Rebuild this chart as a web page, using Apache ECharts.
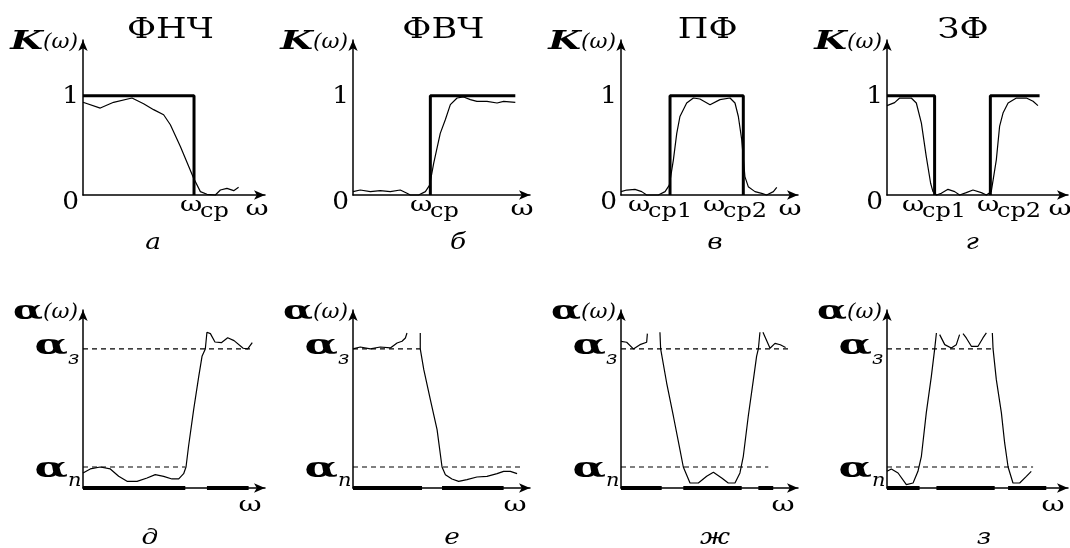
<!DOCTYPE html>
<html><head><meta charset="utf-8">
<script src="https://cdn.jsdelivr.net/npm/echarts@6/dist/echarts.min.js"></script>
<style>html,body{margin:0;padding:0;background:#fff}#c{width:1070px;height:548px}</style>
</head><body><div id="c"></div>
<script>
// ---------- data ----------
const TITLES = ['ФНЧ', 'ФВЧ', 'ПФ', 'ЗФ'];
const LETTERS_TOP = ['а', 'б', 'в', 'г'];
const LETTERS_BOTTOM = ['д', 'е', 'ж', 'з'];
const CUT_SUBS = [['ср'], ['ср'], ['ср1', 'ср2'], ['ср1', 'ср2']];
const K_TICKS = ['0', '1'];
const K_ONE = 1;
const A_PASS = 1.51;   // α_п level
const A_STOP = 10;     // α_з level

// ideal K(ω) (thick)
const LPF_IDEAL = [[0, 1], [6.1, 1], [6.1, 0]];
const HPF_IDEAL = [[4.37, 0], [4.37, 1], [9.17, 1]];
const BPF_IDEAL = [[2.77, 0], [2.77, 1], [6.91, 1], [6.91, 0]];
const BSF_IDEAL = [[0, 1], [2.63, 1], [2.63, 0], [4.2, '-'], [5.71, 0], [5.71, 1], [8.43, 1]];

// real K(ω)
const LPF_REAL = [[0,0.933],[0.95,0.875],[1.68,0.933],[2.69,0.976],[3.33,0.919],[3.88,0.859],[4.43,0.808],[4.8,0.707],[5.35,0.488],[6.08,0.168],[6.45,0.034],[6.81,0.007],[7.27,0],[7.55,0.05],[7.91,0.067],[8.28,0.044],[8.55,0.077]];
const HPF_REAL = [[0,0.034],[0.41,0.05],[0.98,0.034],[1.54,0.044],[2.11,0.034],[2.67,0.05],[3.05,0.017],[3.24,0],[3.71,0],[4.09,0.034],[4.33,0.1],[4.56,0.32],[4.93,0.62],[5.22,0.76],[5.5,0.91],[5.88,0.976],[6.25,0.987],[6.63,0.96],[7.0,0.943],[7.57,0.943],[8.14,0.926],[8.51,0.943],[9.17,0.933]];
const BPF_REAL = [[0,0.034],[0.32,0.05],[0.79,0.057],[1.17,0.034],[1.45,0],[2.11,0],[2.49,0.034],[2.73,0.1],[2.96,0.354],[3.15,0.62],[3.33,0.79],[3.71,0.926],[4.09,0.976],[4.46,0.966],[5.03,0.909],[5.59,0.96],[6.16,0.976],[6.44,0.926],[6.63,0.79],[6.82,0.556],[7.0,0.185],[7.19,0.084],[7.57,0.034],[7.95,0.017],[8.23,0],[8.61,0.034],[8.8,0.077]];
const BSF_REAL = [[0,0.9],[0.42,0.93],[0.7,0.976],[1.34,0.976],[1.62,0.926],[1.9,0.724],[2.17,0.387],[2.41,0.118],[2.54,0.034],[2.73,0],[3.0,0.017],[3.37,0.057],[3.74,0.034],[4.01,0],[4.38,0.024],[4.75,0.05],[5.21,0.024],[5.49,0],[5.76,0.034],[6.04,0.354],[6.22,0.69],[6.41,0.825],[6.69,0.926],[7.15,0.976],[7.7,0.976],[8.07,0.943],[8.34,0.9]];

// attenuation α(ω)
const LPF_ATT = [[0,1.08],[0.4,1.37],[0.95,1.51],[1.5,1.37],[1.96,0.84],[2.42,0.48],[2.97,0.48],[3.52,0.72],[3.97,0.96],[4.43,0.84],[4.89,0.65],[5.26,0.65],[5.53,1.03],[5.66,1.51],[5.8,3.0],[6.08,5.64],[6.36,8.03],[6.54,9.47],[6.72,10],[6.81,11.2],[7.0,11.1],[7.25,10.5],[7.6,10.45],[7.95,10.8],[8.3,10.6],[8.8,10.05],[9.05,10.0],[9.3,10.45]];
const HPF_ATT = [[0,10],[0.41,10.14],[0.98,10],[1.54,10.14],[2.11,10.07],[2.49,10.43],[2.77,10.55],[2.96,10.79],[3.05,11.15],[3.4,'-'],[3.8,11.15],[3.8,10],[4.0,8.51],[4.37,6.35],[4.75,4.2],[5.03,1.51],[5.22,0.96],[5.59,0.65],[5.97,0.48],[6.44,0.6],[7.0,0.79],[7.57,0.84],[8.14,1.03],[8.51,1.2],[8.89,1.2],[9.27,1.03]];
const BPF_ATT = [[0,10.55],[0.32,10.48],[0.7,10],[1.07,10.31],[1.45,10.48],[1.49,11.1],[1.8,'-'],[2.2,11.2],[2.24,10],[2.58,7.55],[2.96,5.16],[3.33,2.76],[3.52,1.51],[3.9,0.36],[4.37,0.36],[4.84,0.84],[5.22,1.13],[5.69,0.72],[6.06,0.36],[6.44,0.36],[6.72,1.08],[6.91,2.28],[7.19,5.16],[7.48,7.79],[7.66,9.47],[7.76,10],[7.85,11.2],[7.95,'-'],[8.02,11.2],[8.42,10.05],[8.7,10.4],[9.0,10.3],[9.3,10.1]];
const BSF_ATT = [[0,1.2],[0.24,1.37],[0.61,1.08],[1.07,0.24],[1.44,0.36],[1.71,1.2],[1.9,2.28],[2.17,5.4],[2.45,8.03],[2.63,9.95],[2.73,11.15],[2.82,'-'],[2.91,11.03],[3.19,10.31],[3.55,10.07],[3.83,10.31],[4.01,11.03],[4.1,'-'],[4.2,11.1],[4.38,10.79],[4.66,10.19],[5.03,10.19],[5.3,10.79],[5.49,11.15],[5.65,'-'],[5.82,11.15],[5.86,10],[6.04,7.79],[6.32,5.4],[6.5,3.24],[6.69,1.51],[6.96,0.36],[7.33,0.36],[7.7,0.84],[7.97,1.2]];

// pass / stop bands marked on the ω axis
const LPF_BANDS = [[0, 5.62], [6.81, 9.1]];
const HPF_BANDS = [[0, 3.9], [5.03, 8.51]];
const BPF_BANDS = [[0, 2.3], [3.52, 6.82], [7.76, 8.6]];
const BSF_BANDS = [[0, 1.8], [2.73, 5.95], [6.69, 8.8]];
// extent of dashed levels
const PASS_DASH_END = [5.62, 9.45, 8.32, 8.07];
const STOP_DASH_END = [9.38, 3.8, 9.55, 5.86];

const IDEAL = [LPF_IDEAL, HPF_IDEAL, BPF_IDEAL, BSF_IDEAL];
const REAL = [LPF_REAL, HPF_REAL, BPF_REAL, BSF_REAL];
const ATT = [LPF_ATT, HPF_ATT, BPF_ATT, BSF_ATT];
const BANDS = [LPF_BANDS, HPF_BANDS, BPF_BANDS, BSF_BANDS];

// ---------- layout ----------
const GRID_LEFT = [83, 353, 621, 887];
const GRID_WIDTH = [182, 177, 177, 181];
const TOP_ROW = {top: 40, height: 155, max: 1.56};
const BOT_ROW = {top: 310, height: 178, max: 12.8};
const TITLE_X = [4.8, 5.1, 4.9, 4.2];
const CUT_LABEL_X = [[5.33], [3.22], [0.4, 4.63], [0.83, 4.97]];
const LETTER_TOP_X = [3.85, 5.93, 5.31, 4.7];
const LETTER_BOT_X = [3.68, 5.59, 5.31, 5.36];

const SERIF = '"DejaVu Serif", "Liberation Serif", serif';
const BLACK = '#000';

const chart = echarts.init(document.getElementById('c'), null, {renderer: 'canvas'});

const grids = [], xAxes = [], yAxes = [], series = [];
function axisCommon(max){
  return {
    type: 'value', min: 0, max: max,
    axisLine: {show: true, onZero: false, lineStyle: {color: BLACK, width: 1.5}, symbol: ['none', 'arrow'], symbolSize: [7, 11]},
    axisTick: {show: false}, axisLabel: {show: false}, splitLine: {show: false}
  };
}
for (let r = 0; r < 2; r++) {
  const row = r === 0 ? TOP_ROW : BOT_ROW;
  for (let i = 0; i < 4; i++) {
    const g = r * 4 + i;
    grids.push({left: GRID_LEFT[i], width: GRID_WIDTH[i], top: row.top, height: row.height});
    xAxes.push(Object.assign(axisCommon(10), {gridIndex: g}));
    yAxes.push(Object.assign(axisCommon(row.max), {gridIndex: g}));
  }
}
const thin = {color: BLACK, width: 1.2};
const dash = {color: BLACK, width: 1.2, type: [5, 4]};
for (let i = 0; i < 4; i++) {
  series.push({type: 'line', xAxisIndex: i, yAxisIndex: i, data: REAL[i], showSymbol: false, lineStyle: thin, z: 3, clip: false, animation: false});
  series.push({type: 'line', xAxisIndex: i, yAxisIndex: i, data: IDEAL[i], showSymbol: false, lineStyle: {color: BLACK, width: 3}, z: 4, clip: false, animation: false});
  const g = 4 + i;
  series.push({type: 'line', xAxisIndex: g, yAxisIndex: g, data: [[0, A_PASS], [PASS_DASH_END[i], A_PASS]], showSymbol: false, lineStyle: dash, z: 2, animation: false});
  series.push({type: 'line', xAxisIndex: g, yAxisIndex: g, data: [[0, A_STOP], [STOP_DASH_END[i], A_STOP]], showSymbol: false, lineStyle: dash, z: 2, animation: false});
  series.push({type: 'line', xAxisIndex: g, yAxisIndex: g, data: ATT[i], showSymbol: false, lineStyle: thin, z: 3, clip: false, animation: false});
  BANDS[i].forEach(b => {
    series.push({type: 'line', xAxisIndex: g, yAxisIndex: g, data: [[b[0], 0], [b[1], 0]], showSymbol: false, lineStyle: {color: BLACK, width: 4}, z: 5, clip: false, animation: false});
  });
}

chart.setOption({animation: false, backgroundColor: '#fff', grid: grids, xAxis: xAxes, yAxis: yAxes, series: series});

// ---------- text labels ----------
function P(g, x, y){ return chart.convertToPixel({gridIndex: g}, [x, y]); }
const gfx = [];
function T(x, y, text, font, align, sx){
  gfx.push({type: 'text', x: x, y: y, z: 10, scaleX: sx || 1,
    style: {text: text, font: font, fill: BLACK, textAlign: align || 'center', textVerticalAlign: 'middle'}});
}
for (let i = 0; i < 4; i++) {
  const o = P(i, 0, 0), one = P(i, 0, K_ONE), end = P(i, 10, 0);
  T(P(i, TITLE_X[i], 0)[0], 31, TITLES[i], '27px ' + SERIF, 'center', 1.3);
  // K(ω)
  T(o[0] - 40, 42, 'K', 'italic bold 26px ' + SERIF, 'right', 1.45);
  T(o[0] - 40, 43, '(ω)', 'italic 21px ' + SERIF, 'left', 1.05);
  T(o[0] - 4, one[1] + 1, K_TICKS[1], '24px ' + SERIF, 'right', 1.1);
  T(o[0] - 4, o[1] + 8, K_TICKS[0], '24px ' + SERIF, 'right', 1.1);
  CUT_LABEL_X[i].forEach((cx, k) => {
    const px = P(i, cx, 0)[0];
    T(px, o[1] + 11, 'ω', '21px ' + SERIF, 'left', 1.3);
    T(px + 20, o[1] + 17, CUT_SUBS[i][k], '20px ' + SERIF, 'left', 1.2);
  });
  T(end[0] - 8, o[1] + 15, 'ω', '21px ' + SERIF, 'center', 1.35);
  T(P(i, LETTER_TOP_X[i], 0)[0], 243, LETTERS_TOP[i], 'italic 22px ' + SERIF, 'center', 1.2);

  const g = 4 + i;
  const bo = P(g, 0, 0), bz = P(g, 0, A_STOP), bp = P(g, 0, A_PASS), bend = P(g, 10, 0);
  T(bo[0] - 40, 312, 'α', 'bold 26px ' + SERIF, 'right', 1.5);
  T(bo[0] - 40, 313, '(ω)', 'italic 21px ' + SERIF, 'left', 1.05);
  T(bo[0] - 15, bz[1] - 2, 'α', 'bold 28px ' + SERIF, 'right', 1.55);
  T(bo[0] - 15, bz[1] + 10, 'з', 'italic 19px ' + SERIF, 'left', 1.1);
  T(bo[0] - 15, bp[1] + 3, 'α', 'bold 28px ' + SERIF, 'right', 1.55);
  T(bo[0] - 15, bp[1] + 14, 'п', 'italic 19px ' + SERIF, 'left', 1.1);
  T(bend[0] - 15, bo[1] + 18, 'ω', '21px ' + SERIF, 'center', 1.35);
  T(P(g, LETTER_BOT_X[i], 0)[0], 538, LETTERS_BOTTOM[i], 'italic 22px ' + SERIF, 'center', 1.2);
}
chart.setOption({graphic: gfx});
</script>
</body></html>
